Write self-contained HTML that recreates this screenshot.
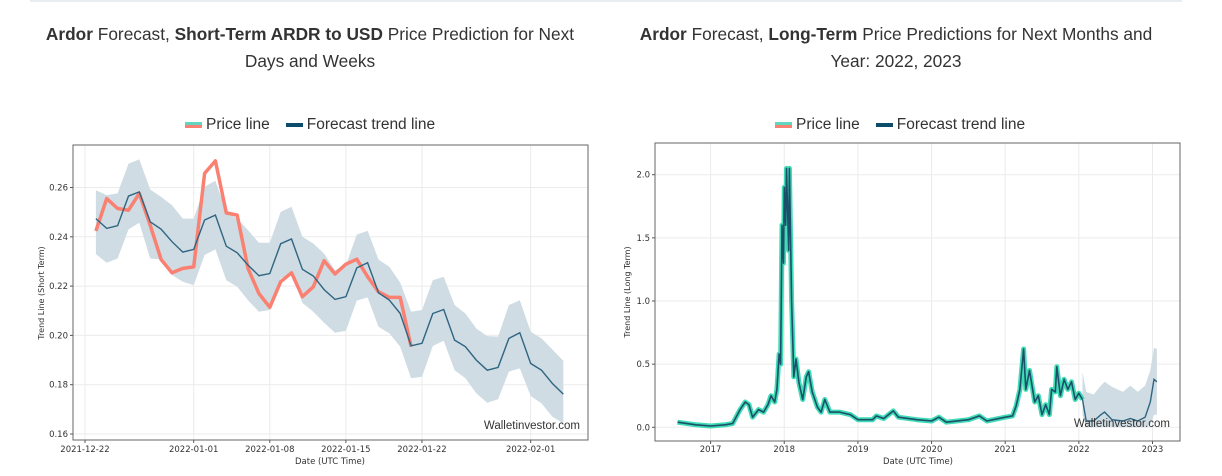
<!DOCTYPE html>
<html><head><meta charset="utf-8"><style>
body{margin:0;width:1222px;height:476px;background:#fff;overflow:hidden;font-family:"Liberation Sans",sans-serif;}
.topline{position:absolute;left:30px;top:0;width:1152px;height:2px;background:#e8edf2;}
.title{position:absolute;text-align:center;font-size:17.3px;line-height:27px;color:#333;}
.title b{font-weight:bold;}
.legend{position:absolute;font-size:15.5px;color:#333;display:flex;align-items:center;gap:6px;}
.sw{display:inline-block;width:17px;height:6px;}
svg{position:absolute;left:0;top:0;}
svg text{font-family:"DejaVu Sans",sans-serif;fill:#333;}
</style></head><body>
<div class="topline"></div>
<div class="title" style="left:32px;width:556px;top:21px"><b>Ardor</b> Forecast, <b>Short-Term ARDR to USD</b> Price Prediction for Next Days and Weeks</div>
<div class="title" style="left:624px;width:544px;top:21px"><b>Ardor</b> Forecast, <b>Long-Term</b> Price Predictions for Next Months and Year: 2022, 2023</div>
<div class="legend" style="left:185px;top:116px">
 <span style="display:flex;align-items:center;gap:4px"><span class="sw" style="background:linear-gradient(#5fd6bd 50%,#fa8072 50%)"></span>Price line</span>
 <span style="display:flex;align-items:center;gap:4px;margin-left:10px"><span class="sw" style="height:4px;background:#0d4d6b"></span>Forecast trend line</span>
</div>
<div class="legend" style="left:775px;top:116px">
 <span style="display:flex;align-items:center;gap:4px"><span class="sw" style="background:linear-gradient(#5fd6bd 50%,#fa8072 50%)"></span>Price line</span>
 <span style="display:flex;align-items:center;gap:4px;margin-left:10px"><span class="sw" style="height:4px;background:#0d4d6b"></span>Forecast trend line</span>
</div>
<svg id="svg" width="1222" height="476"></svg>
<script>
// ---- Short-term data (day index from 2021-12-22) ----
const stTickLabels=["2021-12-22","2022-01-01","2022-01-08","2022-01-15","2022-01-22","2022-02-01"];
const stTickDays=[0,10,17,24,31,41];
const stYTicks=[0.16,0.18,0.20,0.22,0.24,0.26];
const stTrend=[.2474,.2434,.2445,.2565,.2582,.2461,.2431,.2380,.2338,.2349,.2468,.2488,.2362,.2335,.2285,.2242,.2251,.2372,.2391,.2268,.2241,.2186,.2146,.2157,.2274,.2295,.2173,.2143,.2089,.1958,.1968,.2089,.2105,.1981,.1954,.1900,.1859,.1870,.1988,.2011,.1886,.1859,.1805,.1762];
const stUpper=[.2589,.2569,.2576,.2697,.2714,.2592,.2562,.2528,.2474,.2474,.2603,.2627,.2501,.2474,.2427,.2376,.2376,.2501,.2522,.2400,.2373,.2332,.2265,.2285,.2409,.2424,.2308,.2278,.2214,.2096,.2103,.2224,.2238,.2123,.2089,.2028,.1997,.1995,.2123,.2143,.2015,.1988,.1943,.1897];
const stLower=[.2330,.2295,.2312,.2430,.2457,.2312,.2308,.2245,.2218,.2204,.2326,.2349,.2224,.2197,.2143,.2096,.2103,.2231,.2251,.2132,.2096,.2051,.2011,.2019,.2141,.2154,.2035,.2008,.1954,.1826,.1832,.1957,.1978,.1859,.1826,.1765,.1727,.1741,.1853,.1866,.1754,.1724,.1670,.1643];
const stPrice=[.2424,.2555,.2515,.2508,.2576,.2447,.2308,.2254,.2272,.2278,.2657,.2708,.2497,.2488,.2272,.2170,.2114,.2218,.2254,.2157,.2197,.2303,.2249,.2289,.2309,.2238,.2177,.2154,.2154,.1954];
// ---- Long-term data ----
const ltXTicks=[2017,2018,2019,2020,2021,2022,2023];
const ltYTicks=[0.0,0.5,1.0,1.5,2.0];
const ltDates=[2016.55,2016.8,2017.0,2017.2,2017.3,2017.4,2017.47,2017.52,2017.57,2017.65,2017.72,2017.78,2017.82,2017.87,2017.9,2017.93,2017.95,2017.97,2017.99,2018.0,2018.02,2018.03,2018.06,2018.07,2018.1,2018.13,2018.16,2018.2,2018.25,2018.3,2018.33,2018.38,2018.45,2018.5,2018.55,2018.62,2018.75,2018.9,2019.0,2019.2,2019.25,2019.35,2019.48,2019.55,2019.8,2020.0,2020.1,2020.2,2020.5,2020.65,2020.75,2021.0,2021.1,2021.15,2021.2,2021.25,2021.28,2021.33,2021.4,2021.45,2021.5,2021.55,2021.6,2021.63,2021.68,2021.7,2021.75,2021.8,2021.85,2021.9,2021.95,2022.0,2022.05];
const ltPrice=[0.04,0.02,0.01,0.02,0.03,0.14,0.2,0.18,0.08,0.14,0.12,0.18,0.25,0.2,0.3,0.58,0.5,1.6,1.3,1.9,1.6,2.05,1.4,2.05,1.0,0.4,0.54,0.35,0.22,0.4,0.44,0.28,0.16,0.12,0.22,0.12,0.12,0.1,0.06,0.06,0.09,0.07,0.13,0.08,0.06,0.05,0.08,0.04,0.06,0.09,0.05,0.08,0.09,0.17,0.3,0.62,0.3,0.45,0.2,0.25,0.1,0.18,0.1,0.3,0.28,0.48,0.25,0.38,0.3,0.36,0.22,0.27,0.22];
const ltFcDates=[2022.05,2022.1,2022.2,2022.3,2022.35,2022.45,2022.6,2022.7,2022.8,2022.9,2022.97,2023.02,2023.06];
const ltFcTrend=[0.22,0.05,0.05,0.1,0.12,0.06,0.05,0.07,0.05,0.08,0.2,0.38,0.36];
const ltFcUpper=[0.44,0.28,0.26,0.33,0.36,0.32,0.28,0.33,0.28,0.33,0.45,0.63,0.62];
const ltFcLower=[0.1,0.0,0.0,0.0,0.01,0.0,0.0,0.0,0.0,0.0,0.02,0.1,0.1];

const svg=document.getElementById('svg');const NS='http://www.w3.org/2000/svg';
function mk(t,a,parent){const e=document.createElementNS(NS,t);for(const k in a)e.setAttribute(k,a[k]);(parent||svg).appendChild(e);return e;}
function poly(xs,ys,sx,sy){return xs.map((x,i)=>sx(x).toFixed(1)+','+sy(ys[i]).toFixed(1)).join(' ');}
function frame(name){
  const g=mk('g',{});
  
  
  return g;
}

// ===== Short-term chart =====
(function(){
 const L=73,R=588,T=145,B=440;
 const sx=d=>85+d*10.87; const sy=v=>434-(v-0.16)/0.02*49.3;
 const g=frame('short-term-chart');
 const days=stTrend.map((_,i)=>i+1);
 stYTicks.forEach(v=>{const y=sy(v);
  mk('line',{x1:L,x2:R,y1:y,y2:y,stroke:'#ebebeb'},g);
  mk('line',{x1:L-3,x2:L,y1:y,y2:y,stroke:'#555'},g);
  const t=mk('text',{x:L-5,y:y+3,'font-size':8.5,'text-anchor':'end'},g);t.textContent=v.toFixed(2);});
 stTickDays.forEach((d,i)=>{const x=sx(d);
  mk('line',{x1:x,x2:x,y1:T,y2:B,stroke:'#ebebeb'},g);
  mk('line',{x1:x,x2:x,y1:B,y2:B+3,stroke:'#555'},g);
  const t=mk('text',{x:x,y:452,'font-size':8.5,'text-anchor':'middle'},g);t.textContent=stTickLabels[i];});
 const band=poly(days,stUpper,sx,sy)+' '+poly(days.slice().reverse(),stLower.slice().reverse(),sx,sy);
 const b=mk('polygon',{points:band,fill:'#cfdce3'},g);
 const p=mk('polyline',{points:poly(days.slice(0,stPrice.length),stPrice,sx,sy),fill:'none',stroke:'#fa8072','stroke-width':3.5,'stroke-linejoin':'round'},g);
 const tr=mk('polyline',{points:poly(days,stTrend,sx,sy),fill:'none',stroke:'#2f6581','stroke-width':1.4},g);
 mk('rect',{x:L,y:T,width:R-L,height:B-T,fill:'none',stroke:'#666','stroke-width':1},g);
 const w=mk('text',{x:R-8,y:429,'font-size':11.5,'text-anchor':'end',style:'font-family:Liberation Sans'},g);w.textContent='Walletinvestor.com';
 const xt=mk('text',{x:330,y:464,'font-size':8.5,'text-anchor':'middle',fill:'#555'},g);xt.textContent='Date (UTC Time)';
 const yt=mk('text',{x:0,y:0,'font-size':8,'text-anchor':'middle',transform:'translate(44,293) rotate(-90)'},g);yt.textContent='Trend Line (Short Term)';
})();

// ===== Long-term chart =====
(function(){
 const L=655,R=1180,T=143,B=441;
 const sx=y=>710.6+(y-2017)*73.65; const sy=v=>427.3-v*126.3;
 const g=frame('long-term-chart');
 ltYTicks.forEach(v=>{const y=sy(v);
  mk('line',{x1:L,x2:R,y1:y,y2:y,stroke:'#ebebeb'},g);
  mk('line',{x1:L-3,x2:L,y1:y,y2:y,stroke:'#555'},g);
  const t=mk('text',{x:L-5,y:y+3,'font-size':8.5,'text-anchor':'end'},g);t.textContent=v.toFixed(1);});
 ltXTicks.forEach(yr=>{const x=sx(yr);
  mk('line',{x1:x,x2:x,y1:T,y2:B,stroke:'#ebebeb'},g);
  mk('line',{x1:x,x2:x,y1:B,y2:B+3,stroke:'#555'},g);
  const t=mk('text',{x:x,y:452,'font-size':8.5,'text-anchor':'middle'},g);t.textContent=yr;});
 const band=poly(ltFcDates,ltFcUpper,sx,sy)+' '+poly(ltFcDates.slice().reverse(),ltFcLower.slice().reverse(),sx,sy);
 const b=mk('polygon',{points:band,fill:'#cfdce3'},g);
 const p=mk('polyline',{points:poly(ltDates,ltPrice,sx,sy),fill:'none',stroke:'#3fdcb5','stroke-width':5,'stroke-linejoin':'round'},g);
 const t1=mk('polyline',{points:poly(ltDates,ltPrice,sx,sy),fill:'none',stroke:'#1c4f6a','stroke-width':1.6,'stroke-linejoin':'round'},g);
 const t2=mk('polyline',{points:poly(ltFcDates,ltFcTrend,sx,sy),fill:'none',stroke:'#2f6581','stroke-width':1.4},g);
 mk('rect',{x:L,y:T,width:R-L,height:B-T,fill:'none',stroke:'#666'},g);
 const w=mk('text',{x:R-10,y:427,'font-size':11.5,'text-anchor':'end',style:'font-family:Liberation Sans'},g);w.textContent='Walletinvestor.com';
 const xt=mk('text',{x:918,y:464,'font-size':8.5,'text-anchor':'middle',fill:'#555'},g);xt.textContent='Date (UTC Time)';
 const yt=mk('text',{x:0,y:0,'font-size':8,'text-anchor':'middle',transform:'translate(630,292) rotate(-90)'},g);yt.textContent='Trend Line (Long Term)';
})();
</script>
</body></html>
